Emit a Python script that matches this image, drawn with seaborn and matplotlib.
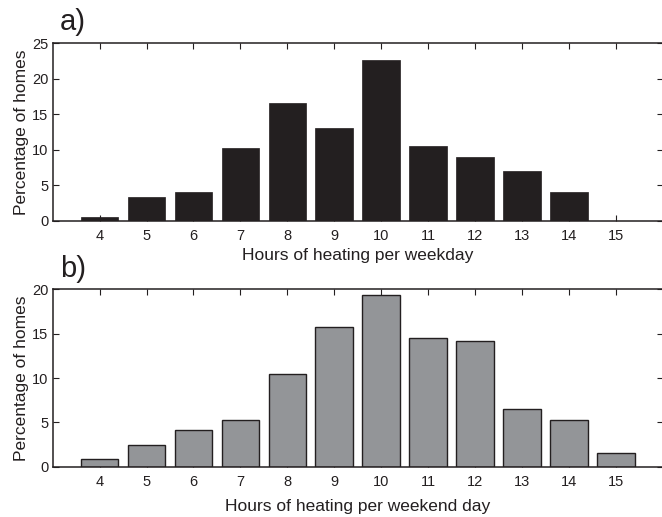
import numpy as np
import matplotlib
matplotlib.use('Agg')
import matplotlib.pyplot as plt
import seaborn as sns

# hours of heating (x categories)
horas = [4, 5, 6, 7, 8, 9, 10, 11, 12, 13, 14, 15]

# percentage of homes, weekday (panel a) and weekend day (panel b)
pct_semana = [0.5, 3.3, 4.1, 10.2, 16.5, 13.0, 22.6, 10.55, 8.9, 6.95, 4.1, 0.0]
pct_fimsemana = [0.86, 2.45, 4.1, 5.3, 10.5, 15.8, 19.4, 14.55, 14.2, 6.5, 5.3, 1.6]

sns.set_style('ticks')
plt.rcParams['font.family'] = ['Liberation Sans', 'DejaVu Sans']
plt.rcParams['xtick.direction'] = 'in'
plt.rcParams['ytick.direction'] = 'in'

cor_escura = '#231f20'
cor_cinza = '#939598'

fig = plt.figure(figsize=(6.62, 5.17), dpi=100)
# a borda direita dos eixos fica praticamente fora da imagem, como no original
ax1 = fig.add_axes([0.0796, 0.5731, 0.9214, 0.3437])
ax2 = fig.add_axes([0.0796, 0.0973, 0.9214, 0.3431])


def formata_eixo(ax, ymax, xlabel, pad_x):
    ax.set_xlim(3, 16)
    ax.set_ylim(0, ymax)
    ax.set_xticks(horas)
    ax.set_xticklabels([str(h) for h in horas])
    ax.set_yticks(np.arange(0, ymax + 1, 5))
    ax.tick_params(axis='both', which='major', labelsize=10.5, length=4, width=0.8,
                   top=True, right=True, color=cor_escura, labelcolor=cor_escura, pad=6)
    ax.tick_params(axis='y', pad=3)
    for lado in ax.spines.values():
        lado.set_linewidth(1.1)
        lado.set_color(cor_escura)
    ax.set_xlabel(xlabel, fontsize=12.5, color=cor_escura, labelpad=pad_x)
    ax.set_ylabel('Percentage of homes', fontsize=12.5, color=cor_escura, labelpad=2)


sns.barplot(x=horas, y=pct_semana, native_scale=True, width=0.8, color=cor_escura,
            saturation=1, edgecolor=cor_escura, linewidth=0.5, ax=ax1)
formata_eixo(ax1, 25, 'Hours of heating per weekday', 3.5)

sns.barplot(x=horas, y=pct_fimsemana, native_scale=True, width=0.8, color=cor_cinza,
            saturation=1, edgecolor=cor_escura, linewidth=1.0, ax=ax2)
formata_eixo(ax2, 20, 'Hours of heating per weekend day', 7)

fig.text(0.0906, 0.942, 'a)', fontsize=21, color=cor_escura, va='baseline')
fig.text(0.0906, 0.4648, 'b)', fontsize=21, color=cor_escura, va='baseline')

fig.savefig('out.png', dpi=100)
